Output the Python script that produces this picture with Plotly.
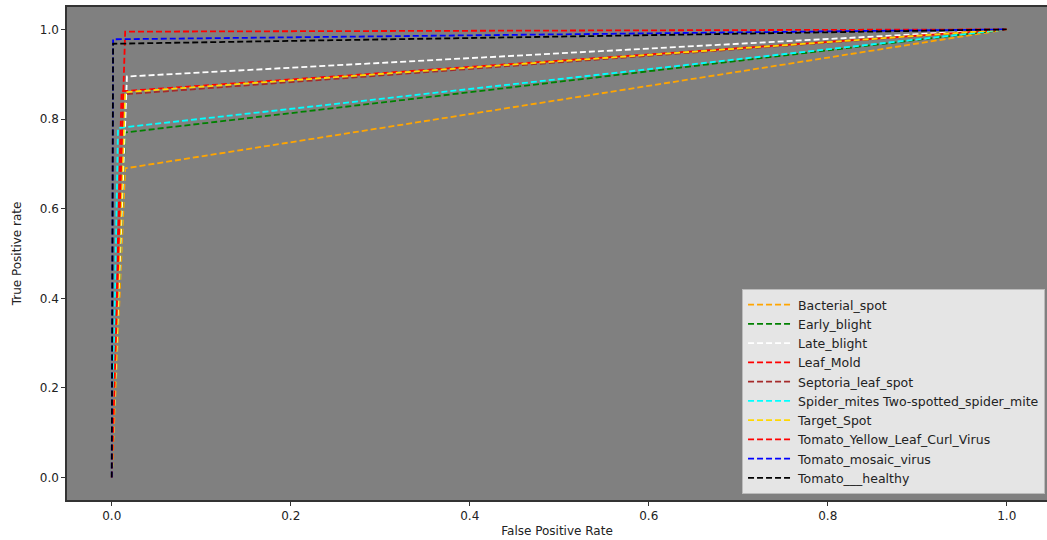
import plotly.graph_objects as go

classes = ["Bacterial_spot", "Early_blight", "Late_blight", "Leaf_Mold",
           "Septoria_leaf_spot", "Spider_mites Two-spotted_spider_mite",
           "Target_Spot", "Tomato_Yellow_Leaf_Curl_Virus",
           "Tomato_mosaic_virus", "Tomato___healthy"]
colors = ["orange", "green", "white", "red", "brown", "cyan", "gold", "red", "blue", "black"]
# ROC points per class: (0,0) -> (fpr, tpr) -> (1,1)
fpr_knee = [0.015, 0.015, 0.017, 0.011, 0.013, 0.007, 0.015, 0.015, 0.0015, 0.0015]
tpr_knee = [0.690, 0.770, 0.895, 0.862, 0.855, 0.780, 0.860, 0.995, 0.978, 0.968]

x_ticks = [0.0, 0.2, 0.4, 0.6, 0.8, 1.0]
y_ticks = [0.0, 0.2, 0.4, 0.6, 0.8, 1.0]

fig = go.Figure()
for name, c, fx, ty in zip(classes, colors, fpr_knee, tpr_knee):
    fig.add_trace(go.Scatter(
        x=[0.0, fx, 1.0], y=[0.0, ty, 1.0], mode="lines", name=name,
        line=dict(color=c, width=1.8, dash="6px,3px")))

tick_font = dict(family="DejaVu Sans", size=12, color="#222222")
axis_common = dict(showgrid=False, zeroline=False, showline=True, linecolor="#333333",
                   linewidth=1.5, ticks="outside", ticklen=4,
                   tickcolor="#333333", tickfont=tick_font)

fig.update_layout(
    width=1047, height=540,
    margin=dict(l=67, r=0, t=7, b=40),
    paper_bgcolor="white", plot_bgcolor="#808080",
    xaxis=dict(range=[-0.05, 1.045], tickvals=x_ticks, ticktext=[f"{v:.1f}" for v in x_ticks],
               mirror=True,
               title=dict(text="False Positive Rate", font=tick_font, standoff=4),
               **axis_common),
    yaxis=dict(range=[-0.05, 1.05], tickvals=y_ticks, ticktext=[f"{v:.1f}" for v in y_ticks],
               mirror=False,
               title=dict(text="True Positive rate", font=tick_font, standoff=16),
               **axis_common),
    legend=dict(x=0.998, y=0.012, xanchor="right", yanchor="bottom",
                bgcolor="#e5e5e5", bordercolor="#bbbbbb", borderwidth=1,
                font=dict(family="DejaVu Sans", size=12.5, color="#222222"),
                tracegroupgap=0, itemwidth=45),
    showlegend=True,
)

fig.write_html("out.html")
